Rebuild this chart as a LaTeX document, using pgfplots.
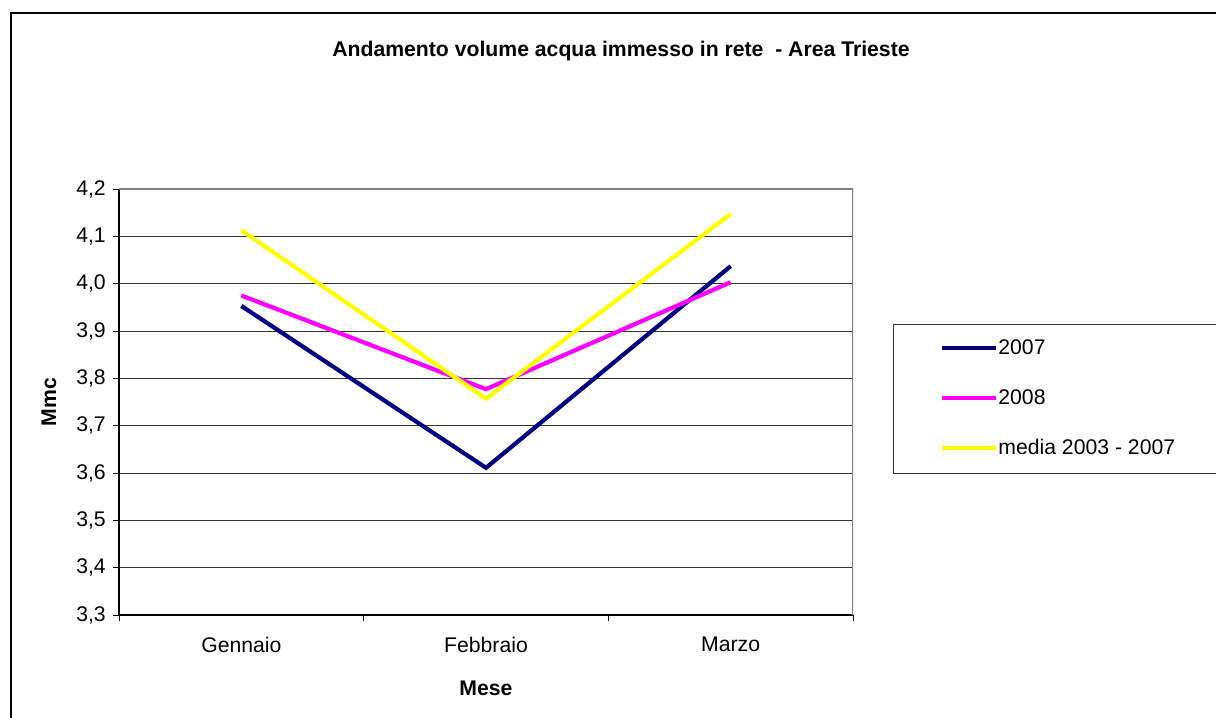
\documentclass[border=0pt]{standalone}
\usepackage{fontspec}
\setmainfont{Liberation Sans}
\usepackage{pgfplots}
\pgfplotsset{compat=1.18}

\definecolor{navy07}{HTML}{000080}
\definecolor{mag08}{HTML}{FF00FF}
\definecolor{yel}{HTML}{FFFF00}

\newcommand{\chartfont}{\fontsize{21.2bp}{25bp}\selectfont}

\begin{document}
\chartfont
\begin{tikzpicture}[x=1bp,y=1bp]
  \useasboundingbox (0,0) rectangle (1216,718);
  % chart area border (left and top visible)
  \draw[black, line width=1.2bp] (11,0) -- (11,705) -- (1216,705);

  \node[font=\chartfont\bfseries] at (621,667) {Andamento volume acqua immesso in rete\ \ - Area Trieste};

  \begin{axis}[
    scale only axis,
    width=734bp, height=426bp,
    at={(119bp,103bp)}, anchor=south west,
    xmin=-0.5, xmax=2.5,
    ymin=3.3, ymax=4.2,
    xtick={-0.5,0.5,1.5,2.5},
    xticklabels={Gennaio,Febbraio,Marzo},
    x tick label as interval,
    xticklabel style={yshift=-9bp},
    ytick={3.3,3.4,...,4.21},
    yticklabel style={/pgf/number format/.cd, use comma, fixed, fixed zerofill, precision=1},
    /pgf/number format/assume math mode=true,
    tick align=outside,
    major tick length=6bp,
    tick style={black, line width=0.8bp},
    axis x line*=bottom, axis y line*=left,
    axis line style={black, line width=1.2bp, -},
    ymajorgrids,
    grid style={black!80, line width=0.8bp},
    tick label style={font=\chartfont},
    xlabel={Mese}, ylabel={Mmc},
    label style={font=\chartfont\bfseries},
    xlabel style={at={(axis description cs:0.5,-0.171)}, anchor=center},
    ylabel style={at={(axis description cs:-0.0954,0.5)}, anchor=center},
    legend style={draw=none, fill=none, at={(axis description cs:1.1185,0.6854)}, anchor=north west,
      inner sep=0pt, row sep=0pt, column sep=0bp,
      nodes={inner sep=0pt, minimum height=50bp, anchor=west},
      font=\chartfont},
    legend cell align=left,
    legend image code/.code={\draw[#1] (0bp,0bp) -- (54bp,0bp);},
    every axis plot/.append style={line width=4.2bp, line join=miter},
  ]
    \addplot[navy07] coordinates {(0,3.953) (1,3.611) (2,4.037)};
    \addplot[mag08] coordinates {(0,3.975) (1,3.777) (2,4.003)};
    \addplot[yel] coordinates {(0,4.113) (1,3.757) (2,4.147)};
    \legend{2007,2008,media 2003 - 2007}
    \draw[gray, line width=1.5bp] (rel axis cs:0,1) -- (rel axis cs:1,1) -- (rel axis cs:1,0);
  \end{axis}

  % legend frame, running out past the right edge
  \draw[black!80, line width=1bp] (1216,393) -- (893,393) -- (893,244) -- (1216,244);
\end{tikzpicture}
\end{document}
